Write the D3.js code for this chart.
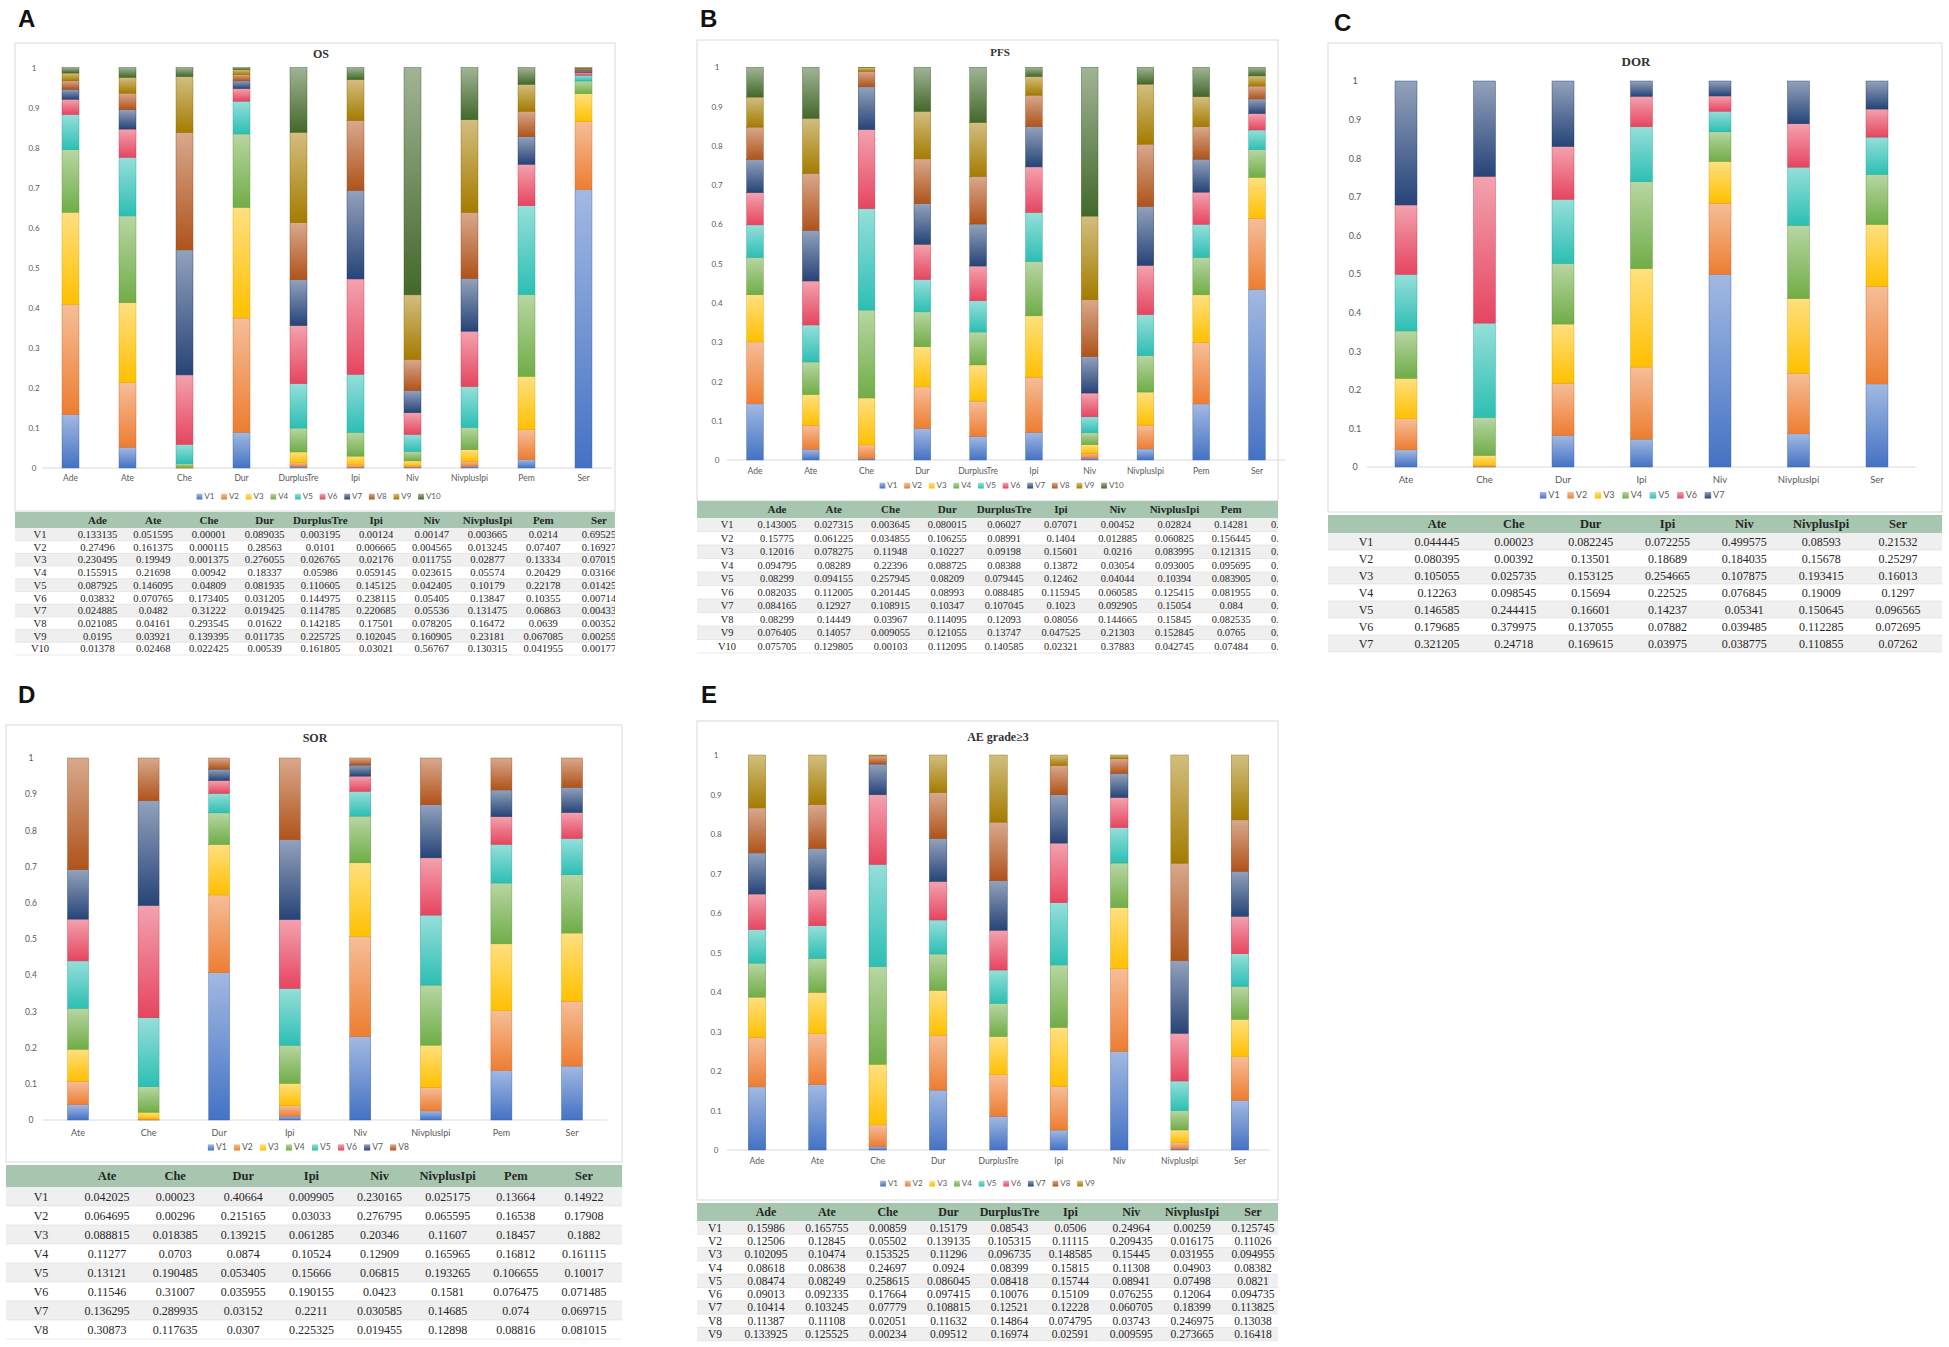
<!DOCTYPE html>
<html>
<head>
<meta charset="utf-8">
<script src="https://cdn.jsdelivr.net/npm/d3@7"></script>
<style>
  body { margin: 0; background: #fff; }
  .tick text, .xlab, .leg { font-family: Lato, "Liberation Sans", sans-serif; fill: #595959; }
  .tbl { font-family: "Liberation Serif", serif; fill: #262626; }
  .ttl { font-family: "Liberation Serif", serif; font-weight: bold; fill: #333; }
  .letter { font-family: "Liberation Sans", Arial, sans-serif; font-weight: bold; fill: #111; }
</style>
</head>
<body>
<svg id="fig" width="1949" height="1347"></svg>
<script>
// ---------- data ----------
const seriesNames = d3.range(1, 11).map(i => 'V' + i);

// OS (A)
const osCats = ['Ade', 'Ate', 'Che', 'Dur', 'DurplusTre', 'Ipi', 'Niv', 'NivplusIpi', 'Pem', 'Ser'];
const osValues = [
  [0.133135, 0.051595, 0.00001, 0.089035, 0.003195, 0.00124, 0.00147, 0.003665, 0.0214, 0.69525],
  [0.27496, 0.161375, 0.000115, 0.28563, 0.0101, 0.006665, 0.004565, 0.013245, 0.07407, 0.16927],
  [0.230495, 0.19949, 0.001375, 0.276055, 0.026765, 0.02176, 0.011755, 0.02877, 0.13334, 0.07019],
  [0.155915, 0.21698, 0.00942, 0.18337, 0.05986, 0.059145, 0.023615, 0.05574, 0.20429, 0.03166],
  [0.087925, 0.146095, 0.04809, 0.081935, 0.110605, 0.145125, 0.042405, 0.10179, 0.22178, 0.01425],
  [0.03832, 0.070765, 0.173405, 0.031205, 0.144975, 0.238115, 0.05405, 0.13847, 0.10355, 0.00714],
  [0.024885, 0.0482, 0.31222, 0.019425, 0.114785, 0.220685, 0.05536, 0.131475, 0.06863, 0.00433],
  [0.021085, 0.04161, 0.293545, 0.01622, 0.142185, 0.17501, 0.078205, 0.16472, 0.0639, 0.00352],
  [0.0195, 0.03921, 0.139395, 0.011735, 0.225725, 0.102045, 0.160905, 0.23181, 0.067085, 0.00259],
  [0.01378, 0.02468, 0.022425, 0.00539, 0.161805, 0.03021, 0.56767, 0.130315, 0.041955, 0.00177]
];

// PFS (B) - Ser column is cut off in the table, estimated from the bar
const pfsCats = ['Ade', 'Ate', 'Che', 'Dur', 'DurplusTre', 'Ipi', 'Niv', 'NivplusIpi', 'Pem', 'Ser'];
const pfsValues = [
  [0.143005, 0.027315, 0.003645, 0.080015, 0.06027, 0.07071, 0.00452, 0.02824, 0.14281, 0.43505],
  [0.15775, 0.061225, 0.034855, 0.106255, 0.08991, 0.1404, 0.012885, 0.060825, 0.156445, 0.18025],
  [0.12016, 0.078275, 0.11948, 0.10227, 0.09198, 0.15601, 0.0216, 0.083995, 0.121315, 0.10465],
  [0.094795, 0.08289, 0.22396, 0.088725, 0.08388, 0.13872, 0.03054, 0.093005, 0.095695, 0.07015],
  [0.08299, 0.094155, 0.257945, 0.08209, 0.079445, 0.12462, 0.04044, 0.10394, 0.083905, 0.05035],
  [0.082035, 0.112005, 0.201445, 0.08993, 0.088485, 0.115945, 0.060585, 0.125415, 0.081955, 0.04185],
  [0.084165, 0.12927, 0.108915, 0.10347, 0.107045, 0.1023, 0.092905, 0.15054, 0.084, 0.03725],
  [0.08299, 0.14449, 0.03967, 0.114095, 0.12093, 0.08056, 0.144665, 0.15845, 0.082535, 0.03285],
  [0.076405, 0.14057, 0.009055, 0.121055, 0.13747, 0.047525, 0.21303, 0.152845, 0.0765, 0.02575],
  [0.075705, 0.129805, 0.00103, 0.112095, 0.140585, 0.02321, 0.37883, 0.042745, 0.07484, 0.02185]
];

// DOR (C)
const dorCats = ['Ate', 'Che', 'Dur', 'Ipi', 'Niv', 'NivplusIpi', 'Ser'];
const dorValues = [
  [0.044445, 0.00023, 0.082245, 0.072255, 0.499575, 0.08593, 0.21532],
  [0.080395, 0.00392, 0.13501, 0.18689, 0.184035, 0.15678, 0.25297],
  [0.105055, 0.025735, 0.153125, 0.254665, 0.107875, 0.193415, 0.16013],
  [0.12263, 0.098545, 0.15694, 0.22525, 0.076845, 0.19009, 0.1297],
  [0.146585, 0.244415, 0.16601, 0.14237, 0.05341, 0.150645, 0.096565],
  [0.179685, 0.379975, 0.137055, 0.07882, 0.039485, 0.112285, 0.072695],
  [0.321205, 0.24718, 0.169615, 0.03975, 0.038775, 0.110855, 0.07262]
];

// SOR (D)
const sorCats = ['Ate', 'Che', 'Dur', 'Ipi', 'Niv', 'NivplusIpi', 'Pem', 'Ser'];
const sorValues = [
  [0.042025, 0.00023, 0.40664, 0.009905, 0.230165, 0.025175, 0.13664, 0.14922],
  [0.064695, 0.00296, 0.215165, 0.03033, 0.276795, 0.065595, 0.16538, 0.17908],
  [0.088815, 0.018385, 0.139215, 0.061285, 0.20346, 0.11607, 0.18457, 0.1882],
  [0.11277, 0.0703, 0.0874, 0.10524, 0.12909, 0.165965, 0.16812, 0.161115],
  [0.13121, 0.190485, 0.053405, 0.15666, 0.06815, 0.193265, 0.106655, 0.10017],
  [0.11546, 0.31007, 0.035955, 0.190155, 0.0423, 0.1581, 0.076475, 0.071485],
  [0.136295, 0.289935, 0.03152, 0.2211, 0.030585, 0.14685, 0.074, 0.069715],
  [0.30873, 0.117635, 0.0307, 0.225325, 0.019455, 0.12898, 0.08816, 0.081015]
];

// AE grade>=3 (E)
const aeCats = ['Ade', 'Ate', 'Che', 'Dur', 'DurplusTre', 'Ipi', 'Niv', 'NivplusIpi', 'Ser'];
const aeValues = [
  [0.15986, 0.165755, 0.00859, 0.15179, 0.08543, 0.0506, 0.24964, 0.00259, 0.125745],
  [0.12506, 0.12845, 0.05502, 0.139135, 0.105315, 0.11115, 0.209435, 0.016175, 0.11026],
  [0.102095, 0.10474, 0.153525, 0.11296, 0.096735, 0.148585, 0.15445, 0.031955, 0.094955],
  [0.08618, 0.08638, 0.24697, 0.0924, 0.08399, 0.15815, 0.11308, 0.04903, 0.08382],
  [0.08474, 0.08249, 0.258615, 0.086045, 0.08418, 0.15744, 0.08941, 0.07498, 0.0821],
  [0.09013, 0.092335, 0.17664, 0.097415, 0.10076, 0.15109, 0.076255, 0.12064, 0.094735],
  [0.10414, 0.103245, 0.07779, 0.108815, 0.12521, 0.12228, 0.060705, 0.18399, 0.113825],
  [0.11387, 0.11108, 0.02051, 0.11632, 0.14864, 0.074795, 0.03743, 0.246975, 0.13038],
  [0.133925, 0.125525, 0.00234, 0.09512, 0.16974, 0.02591, 0.009595, 0.273665, 0.16418]
];

const yTicks = d3.range(0, 11).map(i => i / 10);

// excel-ish palette, bottom colour of each gradient
const colors = ['#4472C4', '#ED7D31', '#FFC000', '#70AD47', '#2CBFB4',
                '#E6455F', '#264478', '#B0531A', '#A57C00', '#43682B'];

// ---------- layout ----------
const panels = [
  { letter: 'A', lx: 18, ly: 27, title: 'OS', cats: osCats, values: osValues,
    box: [15, 43, 600, 468], tx: 321, ty: 58, fs: 8, tfs: 12,
    x0: 70.5, x1: 583.5, yTop: 67.5, yBot: 468, bw: 17, tickX: 34, labY: 481, legY: 499, legCx: 322,
    tb: { y0: 512, headH: 16, rowH: 12.7, labX: 40, c0: 97.5, c1: 599, fs: 10.6, hfs: 11 } },
  { letter: 'B', lx: 700, ly: 27, title: 'PFS', cats: pfsCats, values: pfsValues,
    box: [697, 40, 581, 461], tx: 1000, ty: 56, fs: 8, tfs: 11,
    x0: 755, x1: 1257, yTop: 67.3, yBot: 460, bw: 16.7, tickX: 717, labY: 474, legY: 488, legCx: 1005,
    tb: { y0: 501, headH: 17, rowH: 13.5, labX: 727, c0: 777, c1: 1288, fs: 10.4, hfs: 11 } },
  { letter: 'C', lx: 1334, ly: 31, title: 'DOR', cats: dorCats, values: dorValues,
    box: [1328, 43, 614, 469], tx: 1636, ty: 66, fs: 9, tfs: 13,
    x0: 1406, x1: 1877, yTop: 81, yBot: 467, bw: 22, tickX: 1355, labY: 483, legY: 498, legCx: 1636,
    tb: { y0: 515, headH: 18, rowH: 17, labX: 1366, c0: 1437, c1: 1898, fs: 12, hfs: 12.5 } },
  { letter: 'D', lx: 18, ly: 703, title: 'SOR', cats: sorCats, values: sorValues,
    box: [6, 725, 616, 437], tx: 315, ty: 742, fs: 8.5, tfs: 12,
    x0: 78, x1: 572, yTop: 758, yBot: 1120, bw: 21, tickX: 31, labY: 1136, legY: 1150, legCx: 312,
    tb: { y0: 1165, headH: 22, rowH: 19, labX: 41, c0: 107, c1: 584, fs: 12, hfs: 12.5 } },
  { letter: 'E', lx: 701, ly: 703, title: 'AE grade≥3', cats: aeCats, values: aeValues,
    box: [697, 721, 581, 479], tx: 998, ty: 741, fs: 8, tfs: 12,
    x0: 757, x1: 1240, yTop: 755, yBot: 1150, bw: 17.5, tickX: 716, labY: 1164, legY: 1186, legCx: 991,
    tb: { y0: 1203, headH: 18, rowH: 13.3, labX: 715, c0: 766, c1: 1253, fs: 11.5, hfs: 12 } }
];

// ---------- drawing ----------
const svg = d3.select('#fig');
svg.append('rect').attr('width', 1949).attr('height', 1347).attr('fill', '#fff');
const defs = svg.append('defs');

colors.forEach((c, i) => {
  const g = defs.append('linearGradient').attr('id', 'grad' + i)
    .attr('x1', 0).attr('y1', 0).attr('x2', 0).attr('y2', 1);
  g.append('stop').attr('offset', '0%').attr('stop-color', d3.interpolateRgb(c, '#fff')(0.5));
  g.append('stop').attr('offset', '100%').attr('stop-color', c);
});

panels.forEach(drawPanel);

function drawPanel(p, pi) {
  const g = svg.append('g');
  const keys = p.values.map((_, i) => i);
  const names = seriesNames.slice(0, keys.length);

  // frame
  g.append('rect')
    .attr('x', p.box[0]).attr('y', p.box[1]).attr('width', p.box[2]).attr('height', p.box[3])
    .attr('fill', '#fff').attr('stroke', '#d9d9d9');

  g.append('text').attr('class', 'letter')
    .attr('x', p.lx).attr('y', p.ly).attr('font-size', 24).text(p.letter);

  g.append('text').attr('class', 'ttl')
    .attr('x', p.tx).attr('y', p.ty).attr('text-anchor', 'middle')
    .attr('font-size', p.tfs).text(p.title);

  const x = d3.scalePoint().domain(p.cats).range([p.x0, p.x1]);
  const y = d3.scaleLinear().domain([0, 1]).range([p.yBot, p.yTop]);
  const step = x.step();

  // y axis (labels only)
  const yAxis = g.append('g')
    .attr('transform', `translate(${p.tickX},0)`)
    .call(d3.axisLeft(y).tickValues(yTicks).tickSize(0).tickPadding(0).tickFormat(d3.format('.1~f')));
  yAxis.select('.domain').remove();
  yAxis.selectAll('text').attr('text-anchor', 'middle').attr('font-size', p.fs);

  // baseline
  g.append('line')
    .attr('x1', p.x0 - step / 2).attr('x2', p.x1 + step / 2)
    .attr('y1', y(0)).attr('y2', y(0))
    .attr('stroke', '#d9d9d9');

  // stacked bars
  const rows = p.cats.map((c, ci) => {
    const r = { cat: c };
    keys.forEach(k => { r[k] = p.values[k][ci]; });
    return r;
  });
  const stacked = d3.stack().keys(keys)(rows);

  g.selectAll('.layer')
    .data(stacked)
    .join('g')
    .attr('class', 'layer')
    .attr('fill', d => `url(#grad${d.key})`)
    .attr('stroke', d => d3.color(colors[d.key]).darker(0.4))
    .attr('stroke-width', 0.4)
    .selectAll('rect')
    .data(d => d)
    .join('rect')
    .attr('x', d => x(d.data.cat) - p.bw / 2)
    .attr('width', p.bw)
    .attr('y', d => y(d[1]))
    .attr('height', d => Math.max(0, y(d[0]) - y(d[1])));

  // x labels
  g.selectAll('.xlab')
    .data(p.cats)
    .join('text')
    .attr('class', 'xlab')
    .attr('x', d => x(d)).attr('y', p.labY)
    .attr('text-anchor', 'middle').attr('font-size', p.fs + 0.5)
    .text(d => d);

  // legend
  const leg = g.append('g');
  const sq = p.fs * 0.72;
  let cx = 0;
  names.forEach((n, i) => {
    const it = leg.append('g').attr('transform', `translate(${cx},0)`);
    it.append('rect').attr('x', 0).attr('y', -sq + 0.5).attr('width', sq).attr('height', sq)
      .attr('fill', `url(#grad${i})`);
    const t = it.append('text').attr('class', 'leg').attr('x', sq + 2).attr('y', 0)
      .attr('font-size', p.fs).text(n);
    cx += sq + 2 + t.node().getComputedTextLength() + p.fs * 0.85;
  });
  leg.attr('transform', `translate(${p.legCx - cx / 2},${p.legY})`);

  // table
  const tb = p.tb;
  const tH = tb.headH + tb.rowH * names.length;
  const clipId = 'clip' + pi;
  defs.append('clipPath').attr('id', clipId)
    .append('rect').attr('x', p.box[0]).attr('y', tb.y0).attr('width', p.box[2]).attr('height', tH + 2);
  const tg = g.append('g').attr('clip-path', `url(#${clipId})`);
  const cx2 = d3.scalePoint().domain(p.cats).range([tb.c0, tb.c1]);
  const ry = d3.scaleBand().domain(names).range([tb.y0 + tb.headH, tb.y0 + tH]);

  tg.append('rect').attr('x', p.box[0]).attr('y', tb.y0).attr('width', p.box[2]).attr('height', tb.headH)
    .attr('fill', '#a6c6b0');
  tg.selectAll('.rowbg')
    .data(names)
    .join('rect')
    .attr('class', 'rowbg')
    .attr('x', p.box[0]).attr('width', p.box[2])
    .attr('y', d => ry(d)).attr('height', ry.bandwidth())
    .attr('fill', (d, i) => i % 2 === 0 ? '#efefef' : '#ffffff');
  tg.selectAll('.rowline')
    .data(names)
    .join('line')
    .attr('class', 'rowline')
    .attr('x1', p.box[0]).attr('x2', p.box[0] + p.box[2])
    .attr('y1', d => ry(d) + ry.bandwidth()).attr('y2', d => ry(d) + ry.bandwidth())
    .attr('stroke', '#dcdcdc').attr('stroke-width', 0.6);

  tg.selectAll('.hdr')
    .data(p.cats)
    .join('text')
    .attr('class', 'tbl hdr')
    .attr('x', d => cx2(d)).attr('y', tb.y0 + tb.headH / 2)
    .attr('dy', '0.35em').attr('text-anchor', 'middle')
    .attr('font-weight', 'bold').attr('font-size', tb.hfs)
    .text(d => d);

  tg.selectAll('.rlab')
    .data(names)
    .join('text')
    .attr('class', 'tbl rlab')
    .attr('x', tb.labX).attr('y', d => ry(d) + ry.bandwidth() / 2)
    .attr('dy', '0.35em').attr('text-anchor', 'middle').attr('font-size', tb.fs)
    .text(d => d);

  const cells = [];
  names.forEach((n, k) => p.cats.forEach((c, ci) => cells.push({ n, c, v: p.values[k][ci] })));
  tg.selectAll('.cell')
    .data(cells)
    .join('text')
    .attr('class', 'tbl cell')
    .attr('x', d => cx2(d.c)).attr('y', d => ry(d.n) + ry.bandwidth() / 2)
    .attr('dy', '0.35em').attr('text-anchor', 'middle').attr('font-size', tb.fs)
    .text(d => String(d.v));
}
</script>
</body>
</html>
